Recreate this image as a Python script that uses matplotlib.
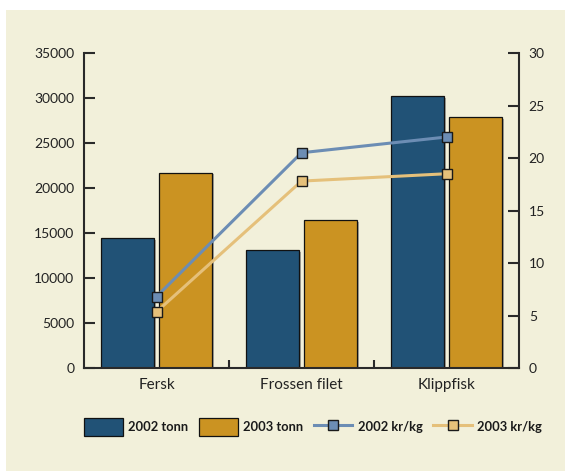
import matplotlib
matplotlib.use("Agg")
import matplotlib.pyplot as plt
import numpy as np
from matplotlib.patches import Rectangle
from matplotlib.lines import Line2D
import matplotlib.patheffects as pe

categories = ["Fersk", "Frossen filet", "Klippfisk"]
tonn_2002 = [14400, 13100, 30200]
tonn_2003 = [21700, 16400, 27850]
krkg_2002 = [6.8, 20.5, 22.0]
krkg_2003 = [5.35, 17.8, 18.5]
left_ticks = [0, 5000, 10000, 15000, 20000, 25000, 30000, 35000]
right_ticks = [0, 5, 10, 15, 20, 25, 30]
series_labels = ["2002 tonn", "2003 tonn", "2002 kr/kg", "2003 kr/kg"]

cream = "#F2F0DA"
c_blue = "#215276"
c_gold = "#CB9322"
c_lblue = "#6C8DB4"
c_lgold = "#E5C07A"
spine_c = "#2a2a2a"

plt.rcParams['font.family'] = ['Lato', 'DejaVu Sans']

fig = plt.figure(figsize=(5.65, 4.71), dpi=100)
fig.patch.set_facecolor("white")
fig.patches.append(Rectangle((6/565, 0), 1, 1 - 10/471, transform=fig.transFigure,
                             facecolor=cream, edgecolor="none", zorder=-10))

ax = fig.add_axes([84/565, 1 - 368/471, (519-84)/565, (368-53)/471])
ax.set_facecolor("none")
x = np.arange(len(categories))
w = 0.365
off = w/2 + 0.017
shadow = [pe.SimplePatchShadow(offset=(1.2, -1.2), shadow_rgbFace="#777777", alpha=0.6), pe.Normal()]
b1 = ax.bar(x - off, tonn_2002, w, color=c_blue, edgecolor="#111111", linewidth=0.9, zorder=2)
b2 = ax.bar(x + off, tonn_2003, w, color=c_gold, edgecolor="#111111", linewidth=0.9, zorder=2)
for b in list(b1) + list(b2):
    b.set_path_effects(shadow)

ax.set_xlim(-0.5, 2.5)
ax.set_ylim(0, 35000)
ax.set_yticks(left_ticks)
ax.set_yticklabels([str(t) for t in left_ticks])
ax.set_xticks(x)
ax.set_xticklabels(categories, fontsize=11, color="#222222")
ax.set_xticks([0.5, 1.5], minor=True)
ax.tick_params(axis="x", which="major", length=0, pad=7)
ax.tick_params(axis="x", which="minor", direction="in", length=6, width=1.5, color=spine_c)
ax.tick_params(axis="y", direction="in", length=8, width=1.5, color=spine_c, labelsize=10,
               labelcolor="#222222", pad=7)
for s in ["top", "right"]:
    ax.spines[s].set_visible(False)
for s in ["left", "bottom"]:
    ax.spines[s].set_color(spine_c)
    ax.spines[s].set_linewidth(1.5)

ax2 = ax.twinx()
ax2.set_ylim(0, 30)
ax2.set_yticks(right_ticks)
ax2.set_yticklabels([str(t) for t in right_ticks])
ax2.tick_params(axis="y", direction="in", length=8, width=1.5, color=spine_c, labelsize=10,
                labelcolor="#222222", pad=7)
for s in ["top", "left", "bottom"]:
    ax2.spines[s].set_visible(False)
ax2.spines["right"].set_color(spine_c)
ax2.spines["right"].set_linewidth(1.5)
l1, = ax2.plot(x, krkg_2002, color=c_lblue, lw=2.2, marker="s", markersize=7,
               markerfacecolor=c_lblue, markeredgecolor="#1a1a1a", markeredgewidth=1, zorder=3)
l2, = ax2.plot(x, krkg_2003, color=c_lgold, lw=2.2, marker="s", markersize=7,
               markerfacecolor=c_lgold, markeredgecolor="#1a1a1a", markeredgewidth=1, zorder=3)

h1 = Rectangle((0, 0), 1, 1, facecolor=c_blue, edgecolor="#111111", linewidth=0.9)
h2 = Rectangle((0, 0), 1, 1, facecolor=c_gold, edgecolor="#111111", linewidth=0.9)
leg = fig.legend([h1, h2, l1, l2], series_labels, loc="center", ncol=4,
                 bbox_to_anchor=(313/565, 1 - 427/471), frameon=False,
                 prop={"weight": "bold", "size": 9.3}, handlelength=3.0, handleheight=1.78,
                 handletextpad=0.39, columnspacing=0.85, borderaxespad=0)
for t in leg.get_texts():
    t.set_color("#1a1a1a")

fig.savefig("out.png", dpi=100, facecolor=fig.get_facecolor())
